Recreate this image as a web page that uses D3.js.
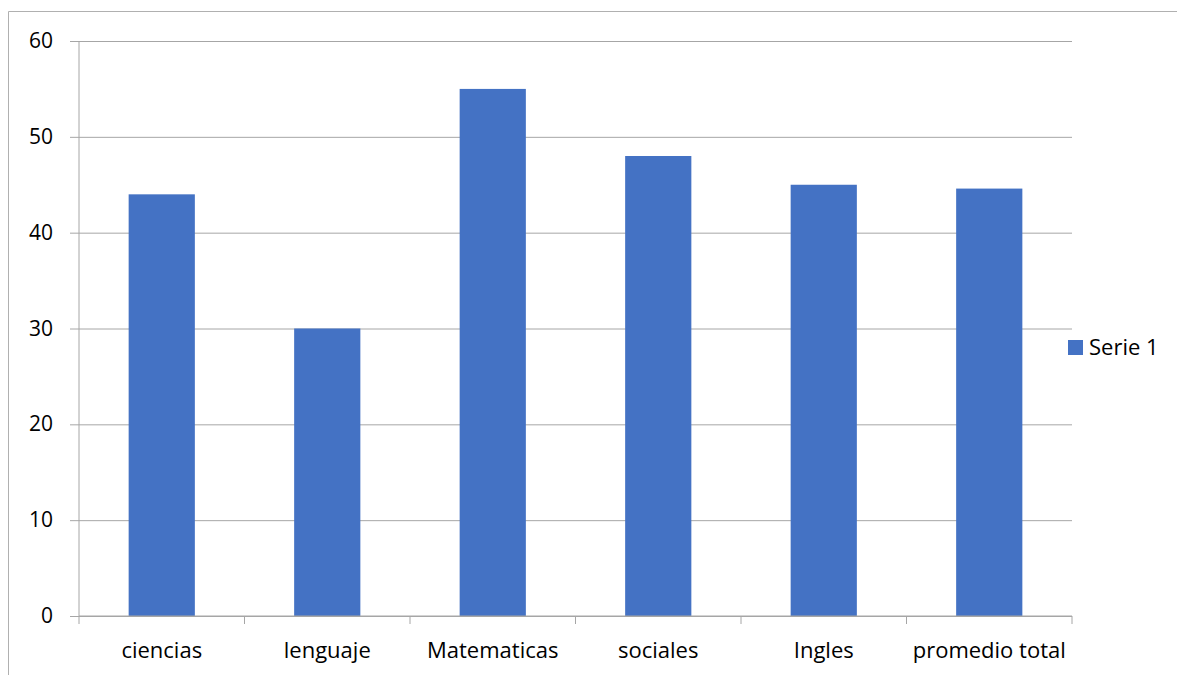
<!DOCTYPE html>
<html>
<head>
<meta charset="utf-8">
<script src="https://cdn.jsdelivr.net/npm/d3@7"></script>
<style>
  body { margin: 0; background: #fff; }
  text { font-family: "Open Sans", Lato, sans-serif; fill: #000; }
</style>
</head>
<body>
<div id="chart"></div>
<script>
// data
var categories = ["ciencias", "lenguaje", "Matematicas", "sociales", "Ingles", "promedio total"]
var serie1 = [44, 30, 55, 48, 45, 44.6]
var yTicks = [0, 10, 20, 30, 40, 50, 60]
var seriesName = "Serie 1"

var width = 1177
var height = 675
var margin = {top: 41, left: 79, right: 105, bottom: 59}

var svg = d3.select("#chart")
  .append("svg")
  .attr("width", width)
  .attr("height", height)

//outer frame (only top and left edges show)
svg.append("line")
  .attr("x1", 8.5).attr("x2", width)
  .attr("y1", 11.5).attr("y2", 11.5)
  .attr("stroke", "#b0b0b0")
svg.append("line")
  .attr("x1", 8.5).attr("x2", 8.5)
  .attr("y1", 11.5).attr("y2", height)
  .attr("stroke", "#b0b0b0")

var plotW = width - margin.left - margin.right
var plotH = height - margin.top - margin.bottom

var g = svg.append("g")
  .attr("transform", "translate(" + margin.left + "," + margin.top + ")")

var x = d3.scaleBand()
  .domain(categories)
  .range([0, plotW])
  .paddingInner(0.6)
  .paddingOuter(0.3)

var y = d3.scaleLinear()
  .domain([0, 60])
  .range([plotH, 0])

//grid lines with little tick stubs on the left
var yAxis = g.append("g")
  .call(d3.axisLeft(y).tickValues(yTicks).tickSize(-plotW - 9).tickFormat(""))
  .attr("transform", "translate(-9,0)")
yAxis.select(".domain").remove()
yAxis.selectAll("line").attr("stroke", "#a6a6a6")

//value labels
g.selectAll(".ylab")
  .data(yTicks)
  .enter()
  .append("text")
  .attr("class", "ylab")
  .attr("x", -26)
  .attr("y", function(d){ return y(d) + 7 })
  .attr("text-anchor", "end")
  .style("font-size", "21px")
  .text(function(d){ return d })

//left axis line
g.append("line")
  .attr("x1", 0).attr("x2", 0)
  .attr("y1", 0).attr("y2", plotH)
  .attr("stroke", "#a6a6a6")

//bars
g.selectAll(".bar")
  .data(serie1)
  .enter()
  .append("rect")
  .attr("class", "bar")
  .attr("x", function(d, i){ return x(categories[i]) })
  .attr("width", x.bandwidth())
  .attr("y", function(d){ return y(d) })
  .attr("height", function(d){ return plotH - y(d) })
  .attr("fill", "#4472c4")

//bottom axis with ticks between categories
var xAxis = g.append("g")
  .attr("transform", "translate(0," + plotH + ")")
xAxis.append("line")
  .attr("x1", 0).attr("x2", plotW)
  .attr("stroke", "#a6a6a6")
xAxis.selectAll(".xtick")
  .data(d3.range(categories.length + 1))
  .enter()
  .append("line")
  .attr("x1", function(d){ return d * plotW / categories.length })
  .attr("x2", function(d){ return d * plotW / categories.length })
  .attr("y1", 0).attr("y2", 8)
  .attr("stroke", "#a6a6a6")
xAxis.selectAll(".xlab")
  .data(categories)
  .enter()
  .append("text")
  .attr("x", function(d){ return x(d) + x.bandwidth() / 2 })
  .attr("y", 42)
  .attr("text-anchor", "middle")
  .style("font-size", "22px")
  .text(function(d){ return d })

//legend
var legend = svg.append("g")
  .attr("transform", "translate(1068,340)")
legend.append("rect")
  .attr("width", 15).attr("height", 15)
  .attr("fill", "#4472c4")
legend.append("text")
  .attr("x", 21)
  .attr("y", 15)
  .style("font-size", "22px")
  .text(seriesName)
</script>
</body>
</html>
